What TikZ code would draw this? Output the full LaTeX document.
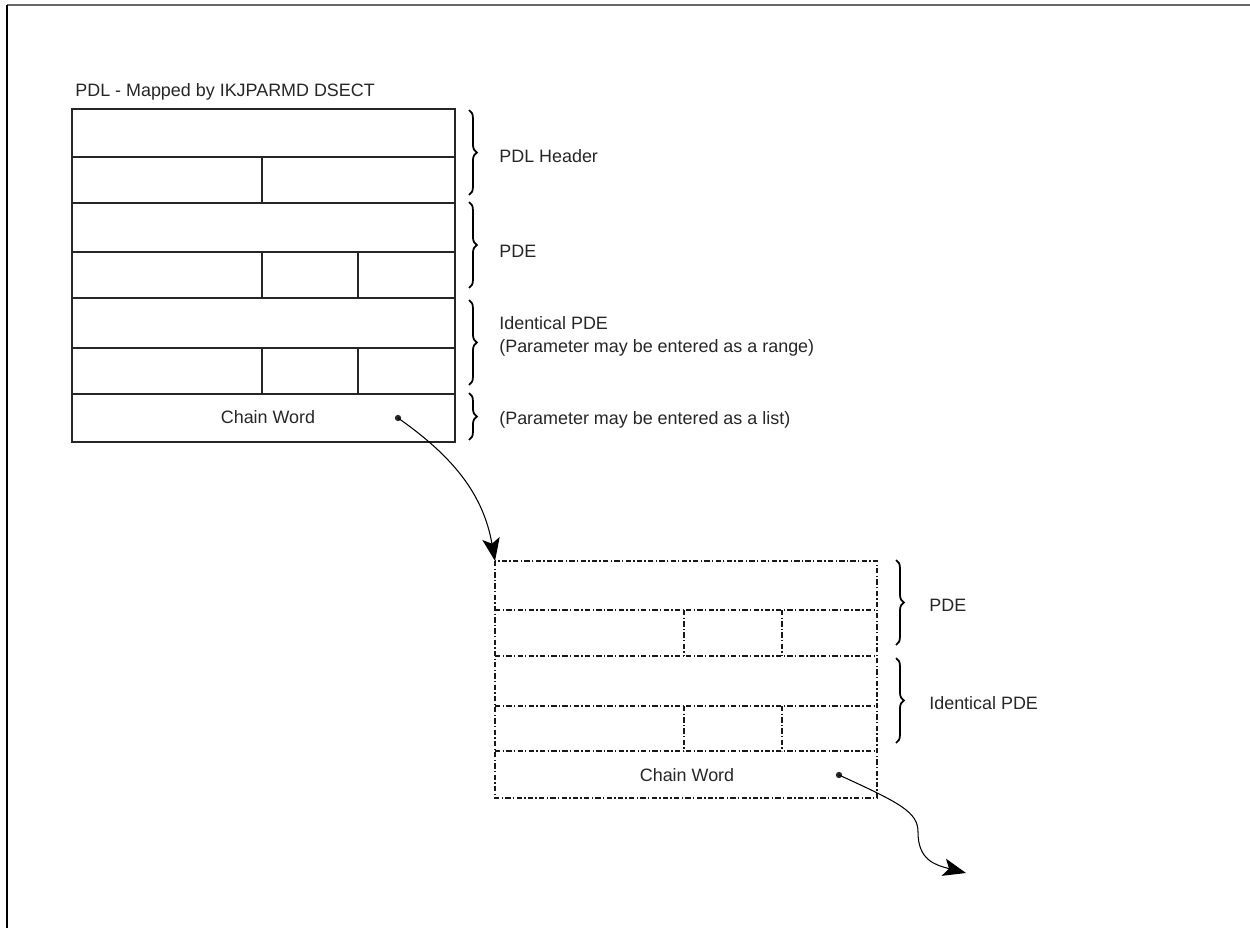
\documentclass[tikz,border=0pt]{standalone}
\usepackage{fontspec}
\setmainfont{Liberation Sans}
\usetikzlibrary{arrows.meta,decorations.pathreplacing}

\begin{document}
\begin{tikzpicture}[x=0.2mm, y=-0.2mm, font=\fontsize{10.2}{12}\selectfont,
  cell/.style={draw=black!85, line width=0.6pt},
  dcell/.style={draw=black!90, line width=0.6pt, dash pattern=on 3pt off 1.3pt on 0.8pt off 1.3pt},
  grp/.style={decorate, decoration={brace, amplitude=4.5pt}, line width=1pt},
  lbl/.style={anchor=base west, inner sep=0pt, text=black!85},
  word/.style={anchor=base, inner sep=0pt, text=black!85},
  link/.style={line width=0.6pt, -{Stealth[length=13pt, width=10pt, inset=3pt]}}]
		\useasboundingbox (0,0) rectangle (1250,928);
		% page frame (top and left edges only)
		\draw[black!60, line width=1.1pt] (7,5) -- (1250,5);
		\draw[line width=0.8pt] (7,5) -- (7,928);
		% PDL: header, PDE, identical PDE, chain word
		\node[lbl] (title) at (75,97) {PDL - Mapped by IKJPARMD DSECT};
		\draw[cell] (72,109) rectangle (455,442);
		\foreach \y in {157,203,252,298,348,394} \draw[cell] (72,\y) -- (455,\y);
		\draw[cell] (262,157) -- (262,203);
		\foreach \x in {262,358} {
			\draw[cell] (\x,252) -- (\x,298);
			\draw[cell] (\x,348) -- (\x,394);
		}
		\node[word] (wordA) at (268,423) {Chain Word};
		\coordinate (ptrA) at (398,418);
		\fill[black!85] (ptrA) circle (1.8pt);
		% braces beside the PDL
		\draw[grp] (469,110) -- (469,195);
		\node[lbl] (hdrA) at (499,163) {PDL Header};
		\draw[grp] (469,202) -- (469,288);
		\node[lbl] (pdeA) at (499,258) {PDE};
		\draw[grp] (469,300) -- (469,385);
		\node[lbl] (idA) at (499,329) {Identical PDE};
		\node[lbl] (rangeA) at (499,352) {(Parameter may be entered as a range)};
		\draw[grp] (469,393) -- (469,440);
		\node[lbl] (listA) at (499,424) {(Parameter may be entered as a list)};
		% chained PDE block (dashed)
		\draw[dcell] (495,561) rectangle (877,798);
		\foreach \y in {610,656,706,751} \draw[dcell] (495,\y) -- (877,\y);
		\foreach \x in {684,782} {
			\draw[dcell] (\x,610) -- (\x,656);
			\draw[dcell] (\x,706) -- (\x,751);
		}
		\node[word] (wordB) at (687,781) {Chain Word};
		\coordinate (ptrB) at (839,775);
		\fill[black!85] (ptrB) circle (1.8pt);
		\draw[grp] (896,560) -- (896,645);
		\node[lbl] (pdeB) at (929,611) {PDE};
		\draw[grp] (896,658) -- (896,743);
		\node[lbl] (idB) at (929,709) {Identical PDE};
		% chain pointers
		\coordinate (topB) at (495,561);
		\coordinate (nextB) at (966,873);
		\draw[link] (ptrA) to[out=-35, in=100] (topB);
		\draw[link] (ptrB) .. controls (900,803) and (918,812) .. (918,832)
			.. controls (918,860) and (935,865) .. (nextB);
	\end{tikzpicture}
\end{document}
